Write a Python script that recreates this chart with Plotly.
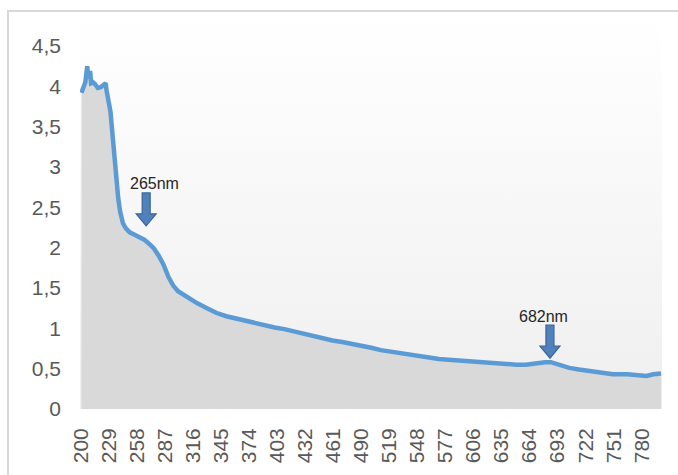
import plotly.graph_objects as go
import base64

# ---- data ----
wavelength = [200, 202, 204, 206, 207, 208, 209, 210, 212, 214, 217, 220, 223, 225, 226, 227,
              228, 230, 232, 234, 236, 238, 240, 243, 246, 250, 255, 260, 265, 270, 275, 280,
              285, 290, 295, 300, 305, 310, 320, 330, 340, 350, 360, 370, 380, 390, 400, 410,
              420, 430, 440, 450, 460, 470, 480, 490, 500, 510, 520, 530, 540, 550, 560, 570,
              580, 590, 600, 610, 620, 630, 640, 650, 660, 670, 680, 686, 695, 705, 715, 730,
              750, 765, 775, 785, 792, 800]
absorbance = [3.92, 3.98, 4.05, 4.25, 4.10, 4.13, 4.19, 4.04, 4.05, 4.03, 3.98, 3.99, 4.03, 4.04, 3.95, 3.90,
              3.82, 3.69, 3.40, 3.07, 2.85, 2.62, 2.45, 2.30, 2.24, 2.19, 2.16, 2.13, 2.10, 2.05, 1.99, 1.90,
              1.79, 1.64, 1.53, 1.46, 1.42, 1.38, 1.31, 1.25, 1.19, 1.15, 1.12, 1.10, 1.07, 1.04, 1.01, 0.99,
              0.96, 0.94, 0.91, 0.88, 0.85, 0.83, 0.81, 0.79, 0.76, 0.73, 0.71, 0.69, 0.67, 0.65, 0.63, 0.62,
              0.61, 0.60, 0.59, 0.58, 0.57, 0.56, 0.55, 0.55, 0.55, 0.57, 0.58, 0.58, 0.54, 0.51, 0.49, 0.46,
              0.43, 0.43, 0.42, 0.41, 0.43, 0.44]

x_tickvals = list(range(200, 781, 29))
x_ticktext = [str(v) for v in x_tickvals]
y_tickvals = [0, 0.5, 1, 1.5, 2, 2.5, 3, 3.5, 4, 4.5]
y_ticktext = ["0", "0,5", "1", "1,5", "2", "2,5", "3", "3,5", "4", "4,5"]

peak_labels = ["265nm", "682nm"]
peak_x = [267, 685]
peak_y = [2.27, 0.63]

W, H = 678, 475
ML, MR, MT, MB = 80, 16, 17, 66
PW, PH = W - ML - MR, H - MT - MB

fig = go.Figure()
fig.add_trace(go.Scatter(
    x=wavelength, y=absorbance, mode="lines",
    fill="tozeroy", fillcolor="#d9d9d9",
    line=dict(color="#5b9bd5", width=4.5),
    hoverinfo="skip", showlegend=False,
))

# gradient background of the plot area
svg = ('<svg xmlns="http://www.w3.org/2000/svg" width="10" height="100" preserveAspectRatio="none">'
       '<defs><linearGradient id="g" x1="0" y1="0" x2="0" y2="1">'
       '<stop offset="0" stop-color="#ffffff"/><stop offset="1" stop-color="#efefef"/>'
       '</linearGradient></defs><rect width="10" height="100" fill="url(#g)"/></svg>')
src = "data:image/svg+xml;base64," + base64.b64encode(svg.encode()).decode()

shapes = []
# block arrows
for px, py in zip(peak_x, peak_y):
    path = "M 0 0 L -10 12 L -4 12 L -4 33 L 4 33 L 4 12 L 10 12 Z"
    shapes.append(dict(type="path", xref="x", yref="y", xsizemode="pixel", ysizemode="pixel",
                       xanchor=px, yanchor=py, path=path,
                       fillcolor="#4f81bd", line=dict(color="#3a6595", width=1.2)))
# outer chart border
shapes.append(dict(type="rect", xref="paper", yref="paper",
                   x0=(8 - ML) / PW, x1=(700 - ML) / PW,
                   y0=(H - MB - 500) / PH, y1=(H - MB - 11) / PH,
                   line=dict(color="#d9d9d9", width=2), fillcolor="rgba(0,0,0,0)", layer="below"))

annotations = []
for lab, px, py, dx in zip(peak_labels, peak_x, peak_y, [8, -6]):
    annotations.append(dict(x=px, y=py, xref="x", yref="y", text=lab, showarrow=False,
                            xshift=dx, yshift=42, font=dict(family="Liberation Sans", size=16, color="#262626")))

fig.update_layout(
    width=W, height=H,
    margin=dict(l=ML, r=MR, t=MT, b=MB),
    paper_bgcolor="white", plot_bgcolor="rgba(0,0,0,0)",
    images=[dict(source=src, xref="paper", yref="paper", x=0, y=1, sizex=1, sizey=1,
                 sizing="stretch", layer="below", xanchor="left", yanchor="top")],
    shapes=shapes, annotations=annotations,
    xaxis=dict(range=[198.5, 801], tickvals=x_tickvals, ticktext=x_ticktext, tickangle=-90,
               showgrid=False, zeroline=False, showline=False, ticks="",
               tickfont=dict(family="Liberation Sans", size=21, color="#595959"),
               ticklabelstandoff=14),
    yaxis=dict(range=[0, 4.86], tickvals=y_tickvals, ticktext=y_ticktext,
               showgrid=False, zeroline=False, showline=False, ticks="",
               tickfont=dict(family="Liberation Sans", size=21, color="#595959"),
               ticklabelstandoff=18),
)

fig.write_html("out.html")
